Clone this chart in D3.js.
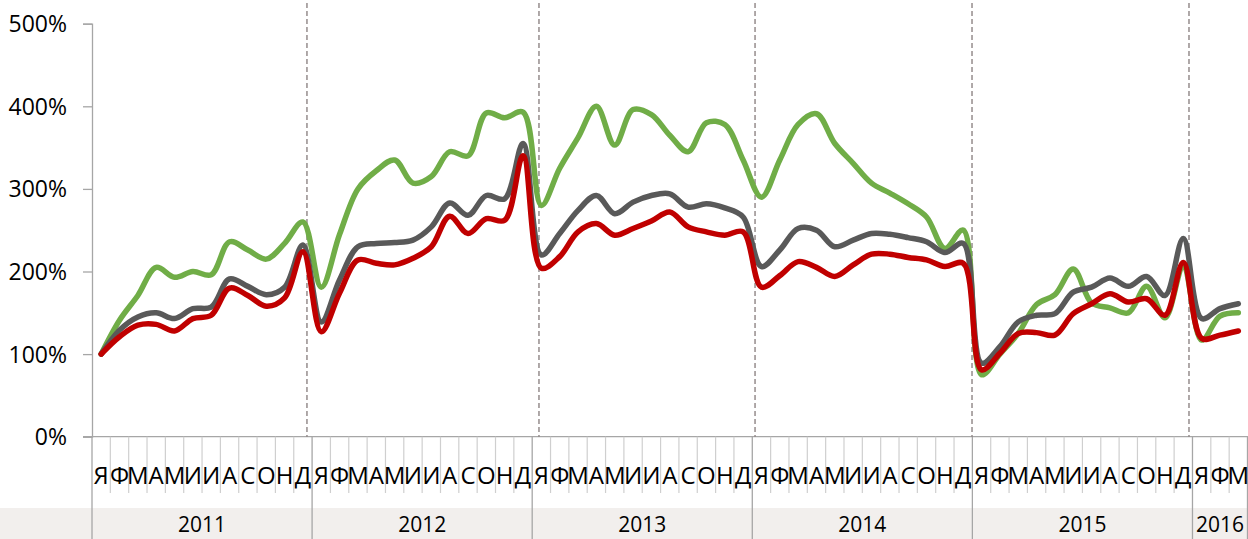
<!DOCTYPE html>
<html><head><meta charset="utf-8">
<script src="https://cdn.jsdelivr.net/npm/d3@7"></script>
<style>
body{margin:0;background:#fff}
svg{display:block}
text{font-family:"Open Sans",sans-serif;fill:#000}
</style>
</head><body>
<svg id="c" width="1248" height="539"></svg>
<script>
const years = ["2011","2012","2013","2014","2015","2016"];
const monthsPerYear = [12,12,12,12,12,3];
const monthLetters = ["Я","Ф","М","А","М","И","И","А","С","О","Н","Д"];
const yTicks = [0,100,200,300,400,500];
const green = [100,141,171,205,193,200,196,236,226,215,234,260,
  181,245,300,322,335,307,315,345,340,392,386,393,
  280,325,362,400,353,396,390,365,345,380,378,335,
  290,335,378,391,355,331,307,295,282,266,228,250,
  75,100,125,160,172,203,162,156,150,182,144,205,
  117,146,150];
const gray = [100,129,145,150,143,155,157,191,182,172,181,232,
  139,190,230,234,235,238,254,283,268,292,288,355,
  220,246,274,292,270,284,292,294,278,282,277,266,
  206,226,252,250,230,238,246,245,241,236,223,234,
  89,109,139,147,149,175,181,192,182,194,171,240,
  143,155,161];
const red = [100,121,135,136,128,143,147,180,171,158,168,224,
  127,174,214,210,208,216,230,267,246,264,262,340,
  204,218,248,258,244,252,261,272,254,248,244,248,
  181,195,212,205,194,208,221,221,217,214,206,210,
  81,101,125,126,123,149,161,173,163,167,147,211,
  119,123,128];
const dividers = [11.72,24.37,36.15,47.98,59.81];

(function(){
const cats = [];
years.forEach((yr,yi)=>{ for(let m=0;m<monthsPerYear[yi];m++) cats.push({year:yr,label:monthLetters[m]}); });
const N = cats.length;

const svg = d3.select("#c");
const pLeft = 92, pRight = 1247.5, pTop = 23.7, pBottom = 436.7;
const x = d3.scaleLinear().domain([0,N]).range([pLeft,pRight]);
const y = d3.scaleLinear().domain([0,500]).range([pBottom,pTop]);

svg.append("rect").attr("x",0).attr("y",508).attr("width",1248).attr("height",31).attr("fill","#f2efed");

const ya = svg.append("g").attr("transform",`translate(${pLeft},0)`)
  .call(d3.axisLeft(y).tickValues(yTicks).tickSize(9).tickPadding(16).tickFormat(d=>d+"%"));
ya.select(".domain").attr("stroke","#a6a6a6").attr("stroke-width",1.3);
ya.selectAll(".tick line").attr("stroke","#a6a6a6").attr("stroke-width",1.3);
ya.selectAll("text").style("font-family","'Open Sans',sans-serif").style("font-size","23px").attr("fill","#000").attr("dy","0.35em");

svg.append("line").attr("x1",83).attr("x2",1248).attr("y1",pBottom).attr("y2",pBottom).attr("stroke","#a6a6a6").attr("stroke-width",1.3);

const bounds = d3.range(0,N+1);
const yearStarts = [0]; monthsPerYear.reduce((a,b)=>{yearStarts.push(a+b);return a+b;},0);
svg.append("g").selectAll("line").data(bounds.filter(b=>!yearStarts.includes(b))).join("line")
  .attr("x1",d=>x(d)).attr("x2",d=>x(d)).attr("y1",pBottom).attr("y2",493)
  .attr("stroke","#cfcfcf").attr("stroke-width",1.2);
svg.append("g").selectAll("line").data(yearStarts).join("line")
  .attr("x1",d=>x(d)).attr("x2",d=>x(d)).attr("y1",pBottom).attr("y2",539)
  .attr("stroke","#a6a6a6").attr("stroke-width",1.3);

svg.append("g").selectAll("text").data(cats).join("text")
  .attr("x",(d,i)=>x(i+0.5)).attr("y",484).attr("text-anchor","middle")
  .style("font-size","24px").text(d=>d.label);

svg.append("g").selectAll("text").data(years).join("text")
  .attr("x",(d,i)=>x((yearStarts[i]+yearStarts[i+1])/2)).attr("y",532).attr("text-anchor","middle")
  .style("font-size","21px").text(d=>d);

svg.append("g").selectAll("line").data(dividers).join("line")
  .attr("x1",d=>x(d)).attr("x2",d=>x(d)).attr("y1",y(525)).attr("y2",pBottom)
  .attr("stroke","#857b7b").attr("stroke-width",1.3).attr("stroke-dasharray","5,3");

const line = d3.line().x((d,i)=>x(i+0.5)).y(d=>y(d)).curve(d3.curveCatmullRom.alpha(0.5));
[[green,"#70ad47"],[gray,"#595959"],[red,"#c00000"]].forEach(([s,c])=>{
  svg.append("path").attr("d",line(s)).attr("fill","none").attr("stroke",c)
    .attr("stroke-width",5.5).attr("stroke-linejoin","round").attr("stroke-linecap","round");
});
})();
</script>
</body></html>
